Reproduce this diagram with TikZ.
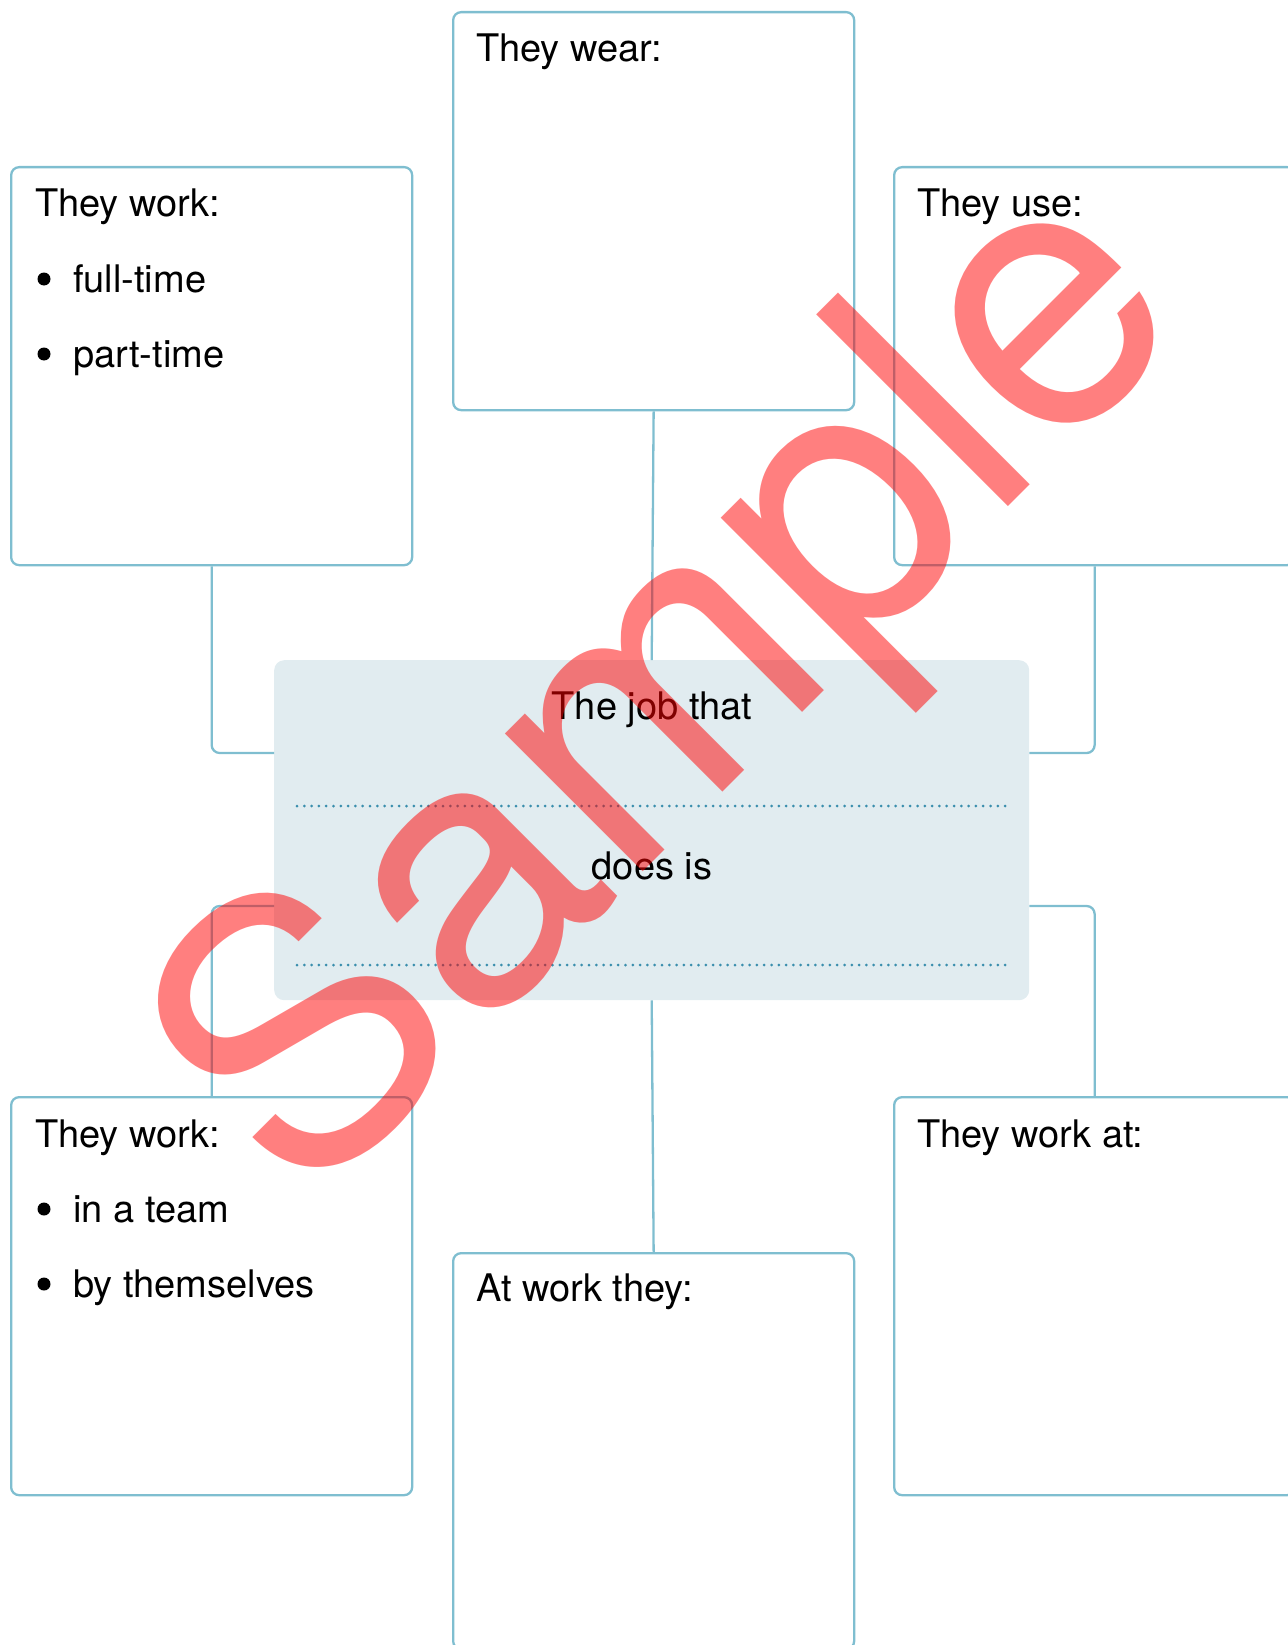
\documentclass[tikz,border=0pt]{standalone}
\usepackage{fontspec}
\setmainfont{TeX Gyre Heros}
\definecolor{boxline}{RGB}{127,190,208}
\definecolor{ctrfill}{RGB}{225,236,240}
\definecolor{dotcol}{RGB}{58,142,173}
\begin{document}
\begin{tikzpicture}[x=1pt,y=-1pt,
  card/.style={draw=boxline,line width=2.3pt,rounded corners=8pt,minimum width=401pt,minimum height=398pt,inner sep=0pt,anchor=north west},
  link/.style={draw=boxline,line width=2.3pt,rounded corners=8pt},
  lbl/.style={anchor=base west,inner sep=0pt,font=\fontsize{38}{42}\selectfont},
  clbl/.style={anchor=base,inner sep=0pt,font=\fontsize{38}{42}\selectfont},
  dot/.style={circle,fill=black,inner sep=0pt,minimum size=13pt},
  dotline/.style={draw=dotcol,line width=3pt,line cap=round,dash pattern=on 0pt off 7.3pt}]
\useasboundingbox (0,0) rectangle (1287,1645);
% boxes
\node[card] (tl) at (10,166) {};
\node[card] (tm) at (452,11) {};
\node[card] (tr) at (893,166) {};
\node[card] (bl) at (10,1096) {};
\node[card,minimum height=396pt] (bm) at (452,1252) {};
\node[card] (br) at (893,1096) {};
\node[fill=ctrfill,rounded corners=10pt,minimum width=755pt,minimum height=340pt,inner sep=0pt,anchor=north west] (ctr) at (274,660) {};
% connectors
\draw[link] (tl.south) |- ([yshift=-93pt]ctr.north west);
\draw[link] (tr.south) |- ([yshift=-93pt]ctr.north east);
\draw[link] ([yshift=-246pt]ctr.north west) -| (bl.north);
\draw[link] ([yshift=-246pt]ctr.north east) -| (br.north);
\draw[link] (tm.south) -- (ctr.north);
\draw[link] (ctr.south) -- (bm.north);
% centre content
\node[clbl] (c1) at (652,719) {The job that};
\node[clbl] (c2) at (652,879) {does is};
\draw[dotline] ([xshift=23pt,yshift=-146pt]ctr.north west) -- ([xshift=-21pt,yshift=-146pt]ctr.north east);
\draw[dotline] ([xshift=23pt,yshift=-305pt]ctr.north west) -- ([xshift=-21pt,yshift=-305pt]ctr.north east);
% labels
\node[lbl] (t1) at (35,217) {They work:};
\node[dot] (b1a) at (44,279) {};
\node[lbl] (t1a) at (73,292) {full-time};
\node[dot] (b1b) at (44,354) {};
\node[lbl] (t1b) at (73,367) {part-time};
\node[lbl] (t2) at (476,62) {They wear:};
\node[lbl] (t3) at (917,217) {They use:};
\node[lbl] (t4) at (35,1147) {They work:};
\node[dot] (b4a) at (44,1209) {};
\node[lbl] (t4a) at (73,1222) {in a team};
\node[dot] (b4b) at (44,1284) {};
\node[lbl] (t4b) at (73,1297) {by themselves};
\node[lbl] (t5) at (476,1301) {At work they:};
\node[lbl] (t6) at (917,1147) {They work at:};
% watermark
\node[rotate=45,anchor=base,inner sep=0pt,text=red,text opacity=0.5,font=\fontsize{372}{372}\selectfont] (wm) at (749,766) {Sample};
\end{tikzpicture}
\end{document}
